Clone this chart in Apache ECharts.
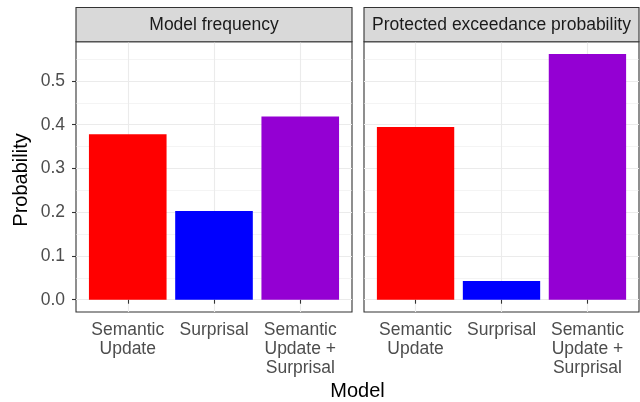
<!DOCTYPE html>
<html>
<head>
<meta charset="utf-8">
<script src="https://cdn.jsdelivr.net/npm/echarts@6/dist/echarts.min.js"></script>
<style>html,body{margin:0;padding:0;background:#fff}#c{width:640px;height:402px}</style>
</head>
<body>
<div id="c"></div>
<script>
const categories = ['Semantic\nUpdate', 'Surprisal', 'Semantic\nUpdate +\nSurprisal'];
const panelTitles = ['Model frequency', 'Protected exceedance probability'];
const modelFrequency = [0.378, 0.2025, 0.4185];
const exceedanceProb = [0.395, 0.0426, 0.5616];
const barColors = ['#FF0000', '#0000FF', '#9400D3'];
const yTicks = [0, 0.1, 0.2, 0.3, 0.4, 0.5];
const yMinor = [0.05, 0.15, 0.25, 0.35, 0.45, 0.55];
const xPositions = [1, 2, 3];
const xTitle = 'Model';
const yTitle = 'Probability';

const FONT = 'Liberation Sans, Arial, Helvetica, sans-serif';
const chart = echarts.init(document.getElementById('c'), null, {renderer: 'canvas'});

const panels = [
  {left: 76, width: 276, values: modelFrequency, title: panelTitles[0]},
  {left: 364, width: 275, values: exceedanceProb, title: panelTitles[1]}
];
const gridTop = 41.7, gridHeight = 270.3;
const yMin = -0.0281, yMax = 0.5897;

const grids = [], xAxes = [], yAxes = [], series = [], graphics = [];
panels.forEach((p, i) => {
  grids.push({left: p.left, top: gridTop, width: p.width, height: gridHeight, show: true,
    backgroundColor: '#fff', borderColor: '#333333', borderWidth: 1.1, z: 0});
  xAxes.push({type: 'value', gridIndex: i, min: 0.4, max: 3.6,
    axisLine: {show: false},
    axisTick: {show: true, customValues: xPositions, length: 4, lineStyle: {color: '#333333', width: 1.1}},
    axisLabel: {show: true, customValues: xPositions, margin: 9, color: '#4D4D4D', fontSize: 17.5,
      fontFamily: FONT, lineHeight: 19, align: 'center', verticalAlign: 'top',
      formatter: v => categories[Math.round(v) - 1]},
    splitLine: {show: true, lineStyle: {color: '#EBEBEB', width: 1.1}},
    minorSplitLine: {show: false}
  });
  yAxes.push({type: 'value', gridIndex: i, min: yMin, max: yMax,
    axisLine: {show: false},
    axisTick: {show: i === 0, customValues: yTicks, length: 4, lineStyle: {color: '#333333', width: 1.1}},
    axisLabel: {show: i === 0, customValues: yTicks, margin: 11, color: '#4D4D4D', fontSize: 17.5,
      fontFamily: FONT, formatter: v => v.toFixed(1)},
    splitLine: {show: true, lineStyle: {color: '#EBEBEB', width: 1.1}}
  });
  series.push({type: 'bar', xAxisIndex: i, yAxisIndex: i, barWidth: '90%', z: 3,
    data: p.values.map((v, k) => ({value: [xPositions[k], v], itemStyle: {color: barColors[k]}})),
    markLine: {silent: true, symbol: ['none', 'none'], z: 1, label: {show: false},
      lineStyle: {color: '#EBEBEB', width: 0.55, type: 'solid'},
      data: yMinor.map(m => ({yAxis: m}))}
  });
  graphics.push({type: 'rect', shape: {x: p.left, y: 7.5, width: p.width, height: gridTop - 7.5},
    style: {fill: '#D9D9D9', stroke: '#333333', lineWidth: 1.1}, z: 10});
  graphics.push({type: 'text', x: p.left + p.width / 2, y: (7.5 + gridTop) / 2 + 0.5,
    style: {text: p.title, font: '17.5px ' + FONT, fill: '#1A1A1A', align: 'center', verticalAlign: 'middle'}, z: 11});
});
graphics.push({type: 'text', x: 357.5, y: 391, style: {text: xTitle, font: '20px ' + FONT, fill: '#000',
  align: 'center', verticalAlign: 'middle'}});
graphics.push({type: 'text', x: 21, y: 180, rotation: Math.PI / 2, style: {text: yTitle, font: '20px ' + FONT,
  fill: '#000', align: 'center', verticalAlign: 'middle'}});

chart.setOption({
  animation: false,
  backgroundColor: '#fff',
  grid: grids, xAxis: xAxes, yAxis: yAxes, series: series, graphic: graphics
});
</script>
</body>
</html>
